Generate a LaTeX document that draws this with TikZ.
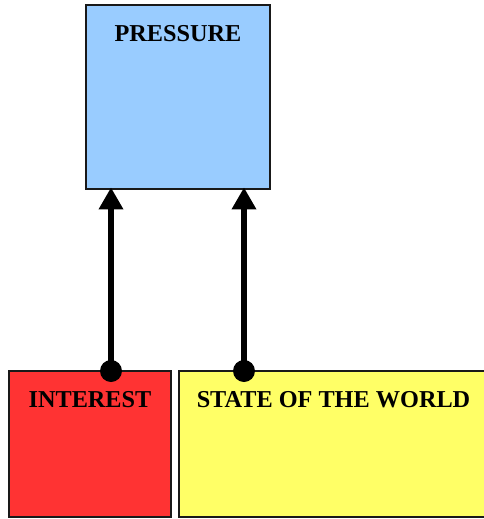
\documentclass[tikz,border=0pt]{standalone}
\usepackage{fontspec}
\setmainfont{Liberation Serif}
\usepackage{xcolor}
\usepackage{tikz}
\usetikzlibrary{
    arrows.meta,
    positioning
}

\definecolor{pressureblue}{HTML}{99CCFF}
\definecolor{interestred}{HTML}{FF3333}
\definecolor{worldyellow}{HTML}{FFFF66}

\begin{document}
\begin{tikzpicture}[
        x=0.75pt,
        y=-0.75pt,
        box/.style={
            rectangle,
            draw=black!90,
            line width=1.2pt,
            inner sep=0pt,
            minimum height=#1
        },
        title/.style={
            anchor=north,
            inner sep=0pt,
            yshift=-15.75pt,
            font=\fontsize{18.2}{20}\selectfont\bfseries
        },
        pull/.style={
            -{Triangle[length=16.5pt, width=17.5pt]},
            line width=4.6pt,
            shorten >=-1.8pt
        }
    ]

    \useasboundingbox (0,0) rectangle (484,519);

    \node[box=138pt, minimum width=138pt, fill=pressureblue,
          label={[title]north:PRESSURE}] (pressure) at (178,97) {};

    \node[box=109.5pt, minimum width=121.5pt, fill=interestred,
          label={[title]north:INTEREST}] (interest) at (90,444) {};

    \node[box=109.5pt, minimum width=231.75pt, fill=worldyellow,
          label={[title]north:STATE OF THE WORLD}] (world) at (333.5,444) {};

    % roots of the two arrows
    \coordinate (frominterest) at (111,371);
    \coordinate (fromworld) at (244,371);

    \draw[pull] (frominterest) -- (frominterest |- pressure.south);
    \draw[pull] (fromworld) -- (fromworld |- pressure.south);

    \fill (frominterest) circle (8.25pt);
    \fill (fromworld) circle (8.25pt);

\end{tikzpicture}
\end{document}
